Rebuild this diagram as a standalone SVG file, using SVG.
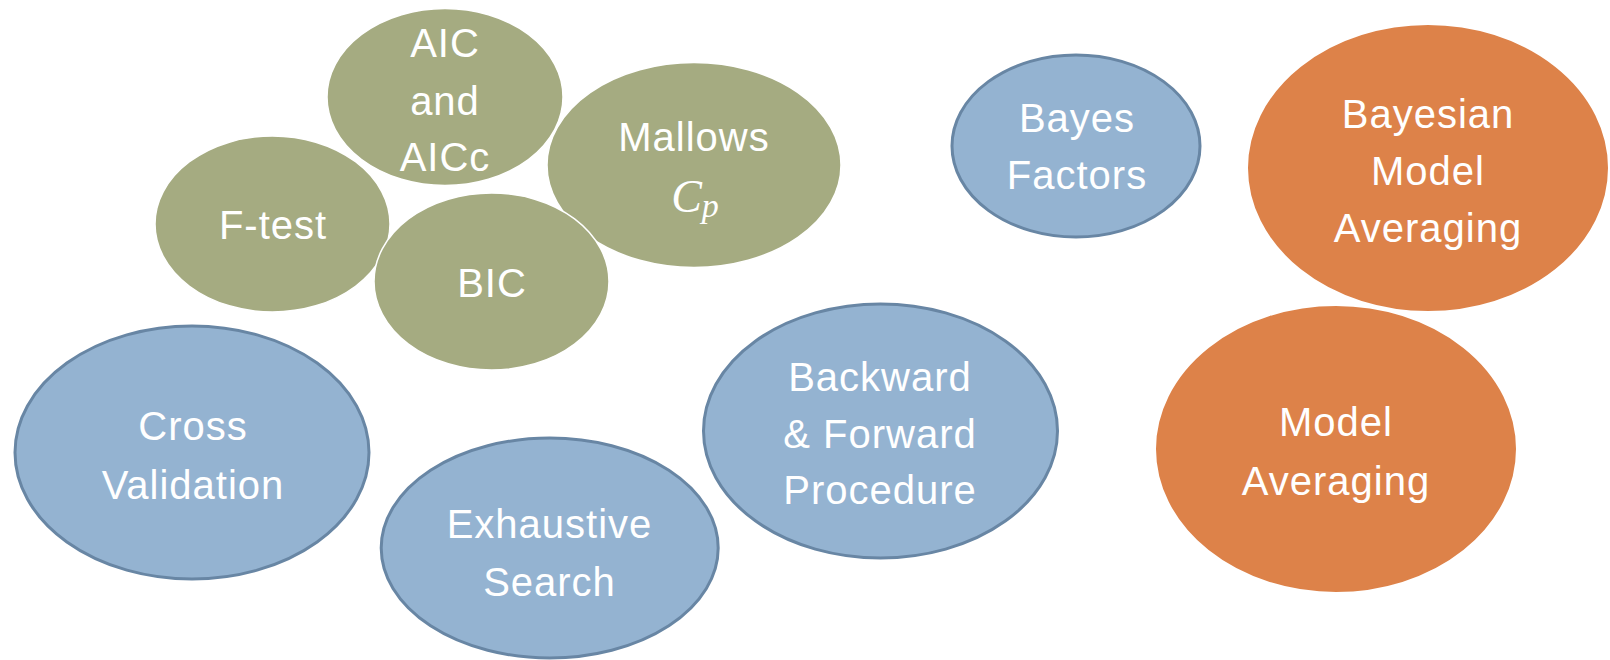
<svg xmlns="http://www.w3.org/2000/svg" width="1610" height="660" viewBox="0 0 1610 660">
  <style>
    .green { fill: #A5AB81; stroke: #FFFFFF; stroke-width: 1.5; }
    .blue { fill: #94B3D1; stroke: #6886A4; stroke-width: 3; }
    .orange { fill: #DD8249; stroke: #FFFFFF; stroke-width: 2; }
    .label { font-family: "Liberation Sans", Arial, sans-serif; font-size: 40px; fill: #FFFFFF; text-anchor: middle; letter-spacing: 1px; }
    .math { font-family: "Liberation Serif", "Times New Roman", serif; font-style: italic; fill: #FFFFFF; text-anchor: middle; }
  </style>
  <rect width="1610" height="660" fill="#FFFFFF"/>

  <!-- information criteria cluster -->
  <g id="node-ftest">
    <ellipse class="green" cx="272.5" cy="224" rx="117.5" ry="88"/>
    <text class="label" x="273" y="239">F-test</text>
  </g>
  <g id="node-aic">
    <ellipse class="green" cx="445" cy="97" rx="118" ry="88.5"/>
    <text class="label" x="445" y="57">AIC</text>
    <text class="label" x="445" y="115">and</text>
    <text class="label" x="445" y="171">AICc</text>
  </g>
  <g id="node-mallows">
    <ellipse class="green" cx="694" cy="165" rx="147" ry="102.5"/>
    <text class="label" x="694" y="151">Mallows</text>
    <text class="math" x="695" y="212" font-size="46">C<tspan font-size="34" dy="5">p</tspan></text>
  </g>
  <g id="node-bic">
    <ellipse class="green" cx="491.5" cy="281.5" rx="117.5" ry="88.5"/>
    <text class="label" x="492" y="297">BIC</text>
  </g>

  <!-- search / validation methods -->
  <g id="node-bayes-factors">
    <ellipse class="blue" cx="1076" cy="146" rx="124" ry="91"/>
    <text class="label" x="1077" y="132">Bayes</text>
    <text class="label" x="1077" y="189">Factors</text>
  </g>
  <g id="node-cross-validation">
    <ellipse class="blue" cx="192" cy="452.5" rx="177" ry="126.5"/>
    <text class="label" x="193" y="440">Cross</text>
    <text class="label" x="193" y="499">Validation</text>
  </g>
  <g id="node-exhaustive-search">
    <ellipse class="blue" cx="549.7" cy="548" rx="168.5" ry="110"/>
    <text class="label" x="549.5" y="538">Exhaustive</text>
    <text class="label" x="549.5" y="596">Search</text>
  </g>
  <g id="node-stepwise">
    <ellipse class="blue" cx="880.5" cy="431" rx="177" ry="127"/>
    <text class="label" x="880" y="391">Backward</text>
    <text class="label" x="880" y="448">&amp; Forward</text>
    <text class="label" x="880" y="504">Procedure</text>
  </g>

  <!-- averaging approaches -->
  <g id="node-model-averaging">
    <ellipse class="orange" cx="1336" cy="449" rx="181" ry="144"/>
    <text class="label" x="1336" y="436">Model</text>
    <text class="label" x="1336" y="495">Averaging</text>
  </g>
  <g id="node-bayesian-model-averaging">
    <ellipse class="orange" cx="1428" cy="168" rx="181" ry="144"/>
    <text class="label" x="1428" y="128">Bayesian</text>
    <text class="label" x="1428" y="185">Model</text>
    <text class="label" x="1428" y="242">Averaging</text>
  </g>

  <g id="connectors"/>
</svg>
